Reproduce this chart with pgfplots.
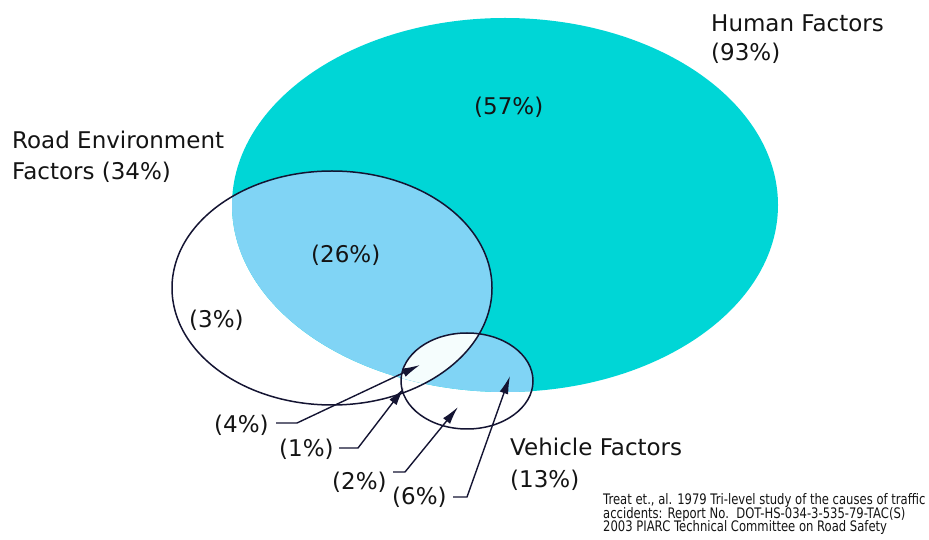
\documentclass[border=0pt]{standalone}
\usepackage{fontspec}
\setmainfont{DejaVu Sans}
\newfontfamily\citefont[FakeStretch=0.8]{DejaVu Sans}
\usepackage{pgfplots}
\pgfplotsset{compat=1.18}
\usetikzlibrary{arrows.meta}
\definecolor{humanc}{RGB}{0,214,214}
\definecolor{overc}{RGB}{128,212,245}
\definecolor{edgec}{RGB}{20,20,50}
\definecolor{txtc}{RGB}{20,20,20}
\tikzset{leader/.style={edgec, line width=1.4bp, -{Latex[length=18bp,width=9bp]}}}
\begin{document}
\begin{tikzpicture}
\begin{axis}[width=929bp, height=540bp, scale only axis,
  xmin=0, xmax=929, ymin=0, ymax=540, y dir=reverse,
  hide axis, clip=false]
\path (axis cs:0,0) rectangle (axis cs:929,540);
% Human factors (centre 505,205; radii 273,187)
\fill[humanc] (axis cs:505,205) ellipse [x radius=273, y radius=187];
% Road environment overlap
\begin{scope}
\clip (axis cs:332,288) ellipse [x radius=160, y radius=117];
\fill[overc] (axis cs:505,205) ellipse [x radius=273, y radius=187];
\end{scope}
% Vehicle overlap
\begin{scope}
\clip (axis cs:467,381) ellipse [x radius=66, y radius=48];
\fill[overc] (axis cs:505,205) ellipse [x radius=273, y radius=187];
\end{scope}
% triple overlap
\begin{scope}
\clip (axis cs:332,288) ellipse [x radius=160, y radius=117];
\clip (axis cs:467,381) ellipse [x radius=66, y radius=48];
\fill[white!96!humanc] (axis cs:505,205) ellipse [x radius=273, y radius=187];
\end{scope}
\draw[edgec, line width=1.5bp] (axis cs:332,288) ellipse [x radius=160, y radius=117];
\draw[edgec, line width=1.5bp] (axis cs:467,381) ellipse [x radius=66, y radius=48];
% leader arrows (label end, elbow, tip)
\addplot[leader] coordinates {(276,423) (297,423) (420,365)};
\addplot[leader] coordinates {(339,448) (358,448) (404,388)};
\addplot[leader] coordinates {(393,472) (405,472) (458,407)};
\addplot[leader] coordinates {(453,497) (467,497) (510,376)};
% labels
\begin{scope}[every node/.style={text=txtc, inner sep=0pt, anchor=base west, font=\fontsize{23bp}{28bp}\selectfont}]
\node at (axis cs:711,32) {Human Factors};
\node at (axis cs:711,61) {(93\%)};
\node at (axis cs:12,149) {Road Environment};
\node at (axis cs:12,180) {Factors (34\%)};
\node at (axis cs:474,115) {(57\%)};
\node at (axis cs:311,263) {(26\%)};
\node at (axis cs:189,328) {(3\%)};
\node at (axis cs:214,433) {(4\%)};
\node at (axis cs:279,457) {(1\%)};
\node at (axis cs:332,490) {(2\%)};
\node at (axis cs:392,505) {(6\%)};
\node at (axis cs:510,456) {Vehicle Factors};
\node at (axis cs:510,488) {(13\%)};
\end{scope}
\begin{scope}[every node/.style={text=txtc, inner sep=0pt, anchor=base west, font=\citefont\fontsize{14.5bp}{15bp}\selectfont}]
\node at (axis cs:603,505) {Treat et., al. 1979 Tri-level study of the causes of traffic};
\node at (axis cs:603,518.5) {accidents: Report No.\ \ DOT-HS-034-3-535-79-TAC(S)};
\node at (axis cs:603,532) {2003 PIARC Technical Committee on Road Safety};
\end{scope}
\end{axis}
\end{tikzpicture}
\end{document}
